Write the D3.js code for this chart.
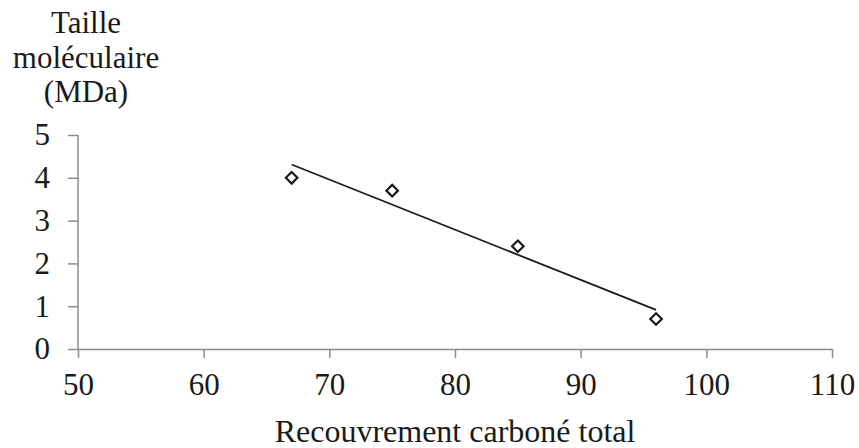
<!DOCTYPE html>
<html>
<head>
<meta charset="utf-8">
<script src="https://cdn.jsdelivr.net/npm/d3@7"></script>
<style>
  body { margin: 0; background: #fff; }
  text { font-family: "Liberation Serif", "Times New Roman", serif; fill: #1a1a1a; }
</style>
</head>
<body>
<div id="chart"></div>
<script>
const recouvrement = [67, 75, 85, 96];
const taille = [4.0, 3.7, 2.4, 0.7];
const xTicks = [50, 60, 70, 80, 90, 100, 110];
const yTicks = [0, 1, 2, 3, 4, 5];
const titreY = ["Taille", "moléculaire", "(MDa)"];
const titreX = "Recouvrement carboné total";

const width = 859, height = 448;
const margin = { top: 135, right: 27, bottom: 99, left: 78 };
const police = "'Liberation Serif', 'Times New Roman', serif";

const svg = d3.select("#chart").append("svg")
    .attr("width", width)
    .attr("height", height);

const x = d3.scaleLinear().domain([50, 110]).range([margin.left, width - margin.right]);
const y = d3.scaleLinear().domain([0, 5]).range([height - margin.bottom, margin.top]);

// axes
const xAxis = svg.append("g")
    .attr("transform", `translate(0,${y(0)})`)
    .call(d3.axisBottom(x).tickValues(xTicks).tickFormat(d3.format("d"))
        .tickSize(9).tickPadding(15).tickSizeOuter(0));
const yAxis = svg.append("g")
    .attr("transform", `translate(${x(50)},0)`)
    .call(d3.axisLeft(y).tickValues(yTicks).tickFormat(d3.format("d"))
        .tickSize(10).tickPadding(18).tickSizeOuter(0));

[xAxis, yAxis].forEach(g => {
    g.attr("font-family", police).attr("font-size", 31);
    g.select(".domain").attr("stroke", "#8c8c8c").attr("stroke-width", 1.5);
    g.selectAll(".tick line").attr("stroke", "#8c8c8c").attr("stroke-width", 1.5);
    g.selectAll(".tick text").attr("fill", "#1a1a1a");
});
yAxis.select(".domain").attr("d", `M0,${y(5)}V${y(0)}`);

// courbe de tendance (régression linéaire)
const mx = d3.mean(recouvrement), my = d3.mean(taille);
const sxy = d3.sum(recouvrement, (v, i) => (v - mx) * (taille[i] - my));
const sxx = d3.sum(recouvrement, v => (v - mx) ** 2);
const pente = sxy / sxx, origine = my - pente * mx;
const xMin = d3.min(recouvrement), xMax = d3.max(recouvrement);

svg.append("line")
    .attr("x1", x(xMin)).attr("y1", y(origine + pente * xMin))
    .attr("x2", x(xMax)).attr("y2", y(origine + pente * xMax))
    .attr("stroke", "#1a1a1a")
    .attr("stroke-width", 1.8);

// points
svg.selectAll(".pt")
    .data(recouvrement.map((v, i) => [v, taille[i]]))
    .enter()
    .append("path")
    .attr("class", "pt")
    .attr("d", d3.symbol(d3.symbolDiamond2, 85))
    .attr("transform", d => `translate(${x(d[0])},${y(d[1])})`)
    .attr("fill", "#fff")
    .attr("stroke", "#1a1a1a")
    .attr("stroke-width", 2.2);

// titres
svg.append("text")
    .attr("text-anchor", "middle")
    .attr("font-family", police)
    .attr("font-size", 31)
    .selectAll("tspan")
    .data(titreY)
    .enter()
    .append("tspan")
    .attr("x", 86)
    .attr("y", (d, i) => 33 + i * 34.5)
    .text(d => d);

svg.append("text")
    .attr("x", (x(50) + x(110)) / 2)
    .attr("y", 442)
    .attr("text-anchor", "middle")
    .attr("font-family", police)
    .attr("font-size", 32)
    .text(titreX);
</script>
</body>
</html>
